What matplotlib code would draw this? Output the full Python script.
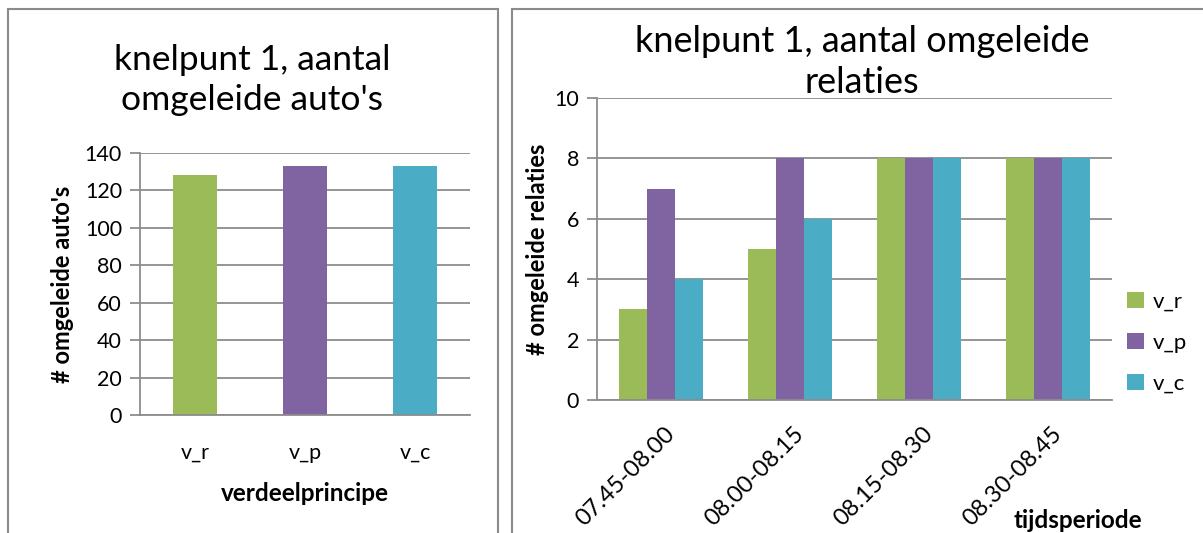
import matplotlib
matplotlib.use("Agg")
import matplotlib.pyplot as plt
from matplotlib.patches import Rectangle
from matplotlib.transforms import ScaledTranslation
import numpy as np

plt.rcParams['font.family'] = ['Lato', 'DejaVu Sans']

# Left chart: number of rerouted cars per distribution principle
principles = ["v_r", "v_p", "v_c"]
cars = [128, 133, 133]

# Right chart: number of rerouted relations per time period
periods = ["07.45-08.00", "08.00-08.15", "08.15-08.30", "08.30-08.45"]
rel_v_r = [3, 5, 8, 8]
rel_v_p = [7, 8, 8, 8]
rel_v_c = [4, 6, 8, 8]

GREEN = "#9BBB59"
PURPLE = "#8064A2"
TEAL = "#4BACC6"
GRID = "#8c8c8c"

W, H = 1203, 533
fig = plt.figure(figsize=(W / 100, H / 100), dpi=100)

# panel frames
for x0, x1 in [(8, 498), (512, 1210)]:
    fig.patches.append(Rectangle((x0 / W, -0.1), (x1 - x0) / W, (H - 9) / H + 0.1,
                                 transform=fig.transFigure, fill=False,
                                 edgecolor="#8a8a8a", linewidth=1.5))


def style_axes(ax, ymax, ystep):
    ax.set_ylim(0, ymax)
    ax.set_yticks(np.arange(0, ymax + 0.001, ystep))
    ax.yaxis.grid(True, color=GRID, linewidth=1.3)
    ax.set_axisbelow(True)
    for s in ["top", "right"]:
        ax.spines[s].set_visible(False)
    for s in ["left", "bottom"]:
        ax.spines[s].set_color(GRID)
        ax.spines[s].set_linewidth(1.3)
    ax.tick_params(axis="y", length=7, color=GRID, width=1.3, labelsize=15.5, pad=6)
    ax.tick_params(axis="x", length=0, labelsize=15.5)


# ---- left chart
ax1 = fig.add_axes([140 / W, 1 - 415 / H, 330 / W, (415 - 153) / H])
x1 = np.arange(len(principles))
ax1.bar(x1, cars, width=0.4, color=[GREEN, PURPLE, TEAL])
ax1.set_xlim(-0.5, len(principles) - 0.5)
style_axes(ax1, 140, 20)
ax1.set_xticks(x1)
ax1.set_xticklabels(principles)
ax1.tick_params(axis="x", pad=20)
ax1.set_xlabel("verdeelprincipe", fontsize=17.5, fontweight="bold", labelpad=14)
ax1.set_ylabel("# omgeleide auto's", fontsize=17, fontweight="bold", labelpad=8)
fig.text(252 / W, 1 - 80 / H, "knelpunt 1, aantal\nomgeleide auto's", ha="center",
         va="center", fontsize=25.5, linespacing=1.3)

# ---- right chart
ax2 = fig.add_axes([597 / W, 1 - 400 / H, (1112 - 597) / W, (400 - 98) / H])
x2 = np.arange(len(periods))
bw = 0.217
ax2.bar(x2 - bw, rel_v_r, width=bw, color=GREEN, label="v_r")
ax2.bar(x2, rel_v_p, width=bw, color=PURPLE, label="v_p")
ax2.bar(x2 + bw, rel_v_c, width=bw, color=TEAL, label="v_c")
ax2.set_xlim(-0.5, len(periods) - 0.5)
style_axes(ax2, 10, 2)
ax2.set_xticks(x2)
ax2.set_xticklabels([])
# slanted period labels, end of each label just right of its group
label_tf = ax2.get_xaxis_transform() + ScaledTranslation(0.15, -0.35, fig.dpi_scale_trans)
for xi, name in zip(x2, periods):
    ax2.text(xi, 0, name, transform=label_tf, rotation=45, ha="right", va="baseline",
             rotation_mode="anchor", fontsize=17)
ax2.set_ylabel("# omgeleide relaties", fontsize=17, fontweight="bold", labelpad=4)
fig.text(1078 / W, 1 - 520 / H, "tijdsperiode", ha="center", va="center",
         fontsize=17.5, fontweight="bold")
fig.text(862 / W, 1 - 62 / H, "knelpunt 1, aantal omgeleide\nrelaties", ha="center",
         va="center", fontsize=26, linespacing=1.3)
ax2.legend(loc="center left", bbox_to_anchor=(0.99, 0.19), frameon=False,
           fontsize=16, handlelength=0.75, handleheight=0.75, handletextpad=0.4,
           labelspacing=0.95)

fig.savefig("out.png", dpi=100)
